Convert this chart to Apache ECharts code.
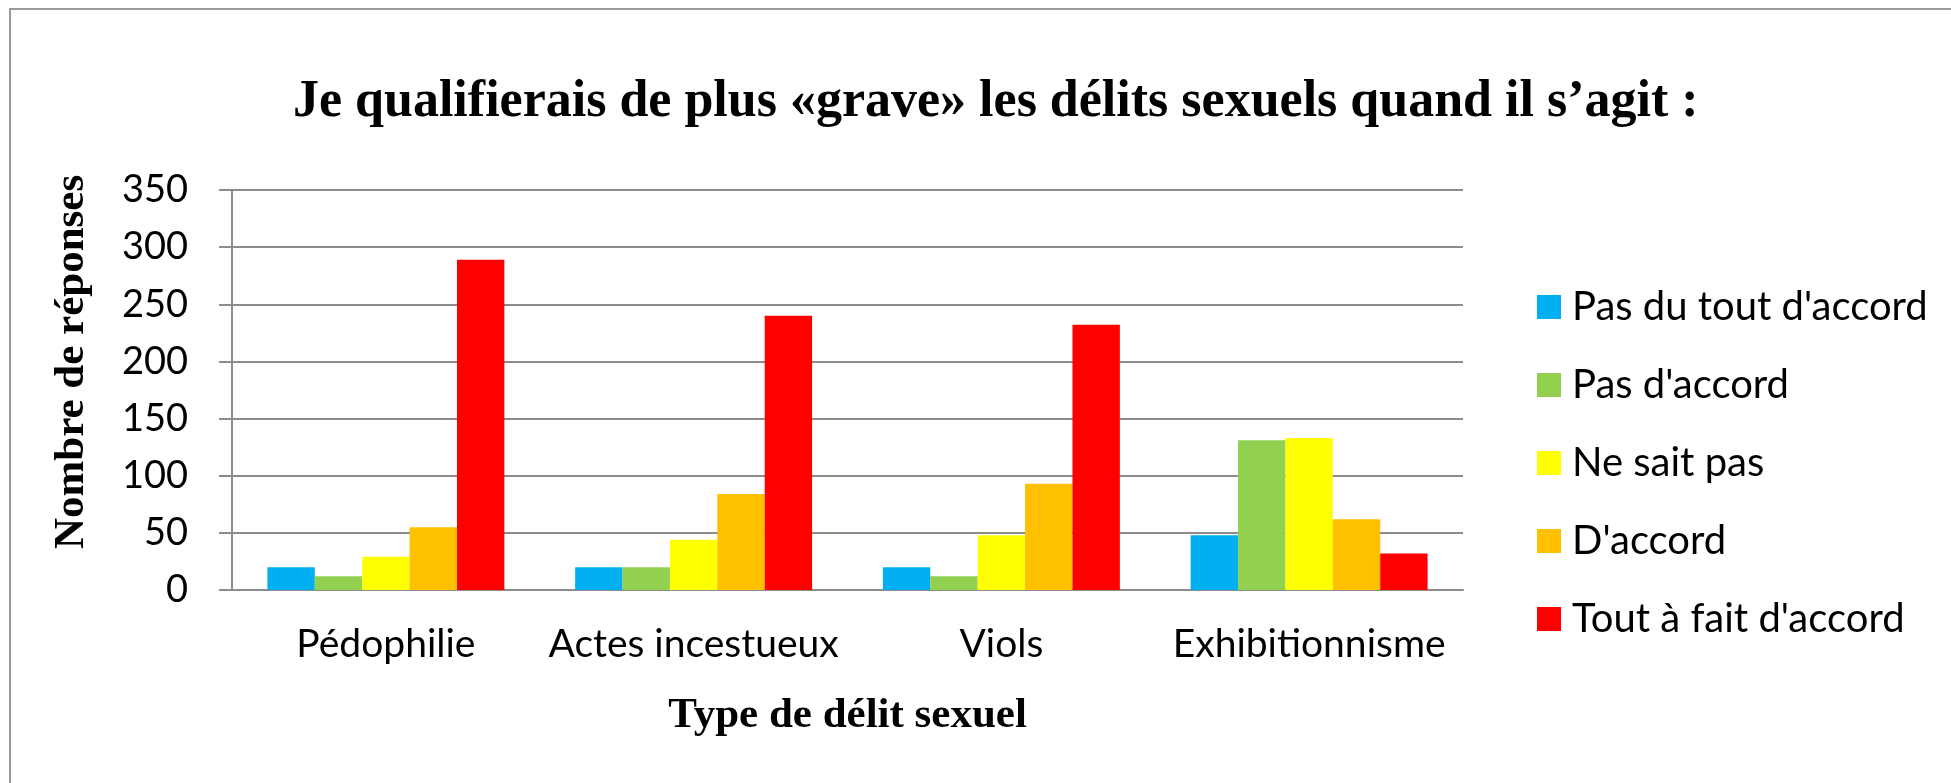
<!DOCTYPE html>
<html>
<head>
<meta charset="utf-8">
<script src="https://cdn.jsdelivr.net/npm/echarts@6/dist/echarts.min.js"></script>
<style>
  html, body { margin: 0; padding: 0; background: #fff; }
  #chart { width: 1951px; height: 783px; }
</style>
</head>
<body>
<div id="chart"></div>
<script>
// données
const categories = ['Pédophilie', 'Actes incestueux', 'Viols', 'Exhibitionnisme']
const seriesNames = ['Pas du tout d\'accord', 'Pas d\'accord', 'Ne sait pas', 'D\'accord', 'Tout à fait d\'accord']
const pasDuToutDaccord = [20, 20, 20, 48]
const pasDaccord = [12, 20, 12, 131]
const neSaitPas = [29, 44, 48, 133]
const daccord = [55, 84, 93, 62]
const toutAFaitDaccord = [289, 240, 232, 32]
const yTicks = [0, 50, 100, 150, 200, 250, 300, 350]

const colors = ['#00B0F0', '#92D050', '#FFFF00', '#FFC000', '#FF0000']
const values = [pasDuToutDaccord, pasDaccord, neSaitPas, daccord, toutAFaitDaccord]

const sansFont = 'Lato'
const serifFont = '"Liberation Serif", "DejaVu Serif", serif'
const gridColor = '#8c8c8c'

const chart = echarts.init(document.getElementById('chart'))

const option = {
  animation: false,
  color: colors,
  graphic: [
    {
      // cadre du graphique
      type: 'rect',
      shape: { x: 10, y: 9, width: 2000, height: 900 },
      style: { fill: 'none', stroke: '#9a9a9a', lineWidth: 2 },
      silent: true
    }
  ],
  title: {
    text: 'Je qualifierais de plus «grave» les délits sexuels quand il s’agit :',
    left: 288,
    top: 72,
    textStyle: {
      fontFamily: serifFont,
      fontWeight: 'bold',
      fontSize: 52,
      color: '#000'
    }
  },
  legend: {
    orient: 'vertical',
    left: 1532,
    top: 282,
    itemWidth: 24,
    itemHeight: 24,
    itemGap: 38,
    icon: 'rect',
    textStyle: {
      fontFamily: sansFont,
      fontSize: 40,
      lineHeight: 40,
      color: '#000',
      padding: [0, 0, 0, 6]
    },
    data: seriesNames
  },
  grid: {
    left: 232,
    right: 488,
    top: 190,
    bottom: 193,
    containLabel: false
  },
  xAxis: {
    type: 'category',
    data: categories,
    name: 'Type de délit sexuel',
    nameLocation: 'middle',
    nameGap: 104,
    nameTextStyle: {
      fontFamily: serifFont,
      fontWeight: 'bold',
      fontSize: 43,
      color: '#000'
    },
    axisLine: { show: true, lineStyle: { color: gridColor, width: 2 } },
    axisTick: { show: false },
    axisLabel: {
      interval: 0,
      margin: 35,
      fontFamily: sansFont,
      fontSize: 39,
      color: '#000'
    }
  },
  yAxis: {
    type: 'value',
    min: yTicks[0],
    max: yTicks[yTicks.length - 1],
    interval: 50,
    name: 'Nombre de réponses',
    nameLocation: 'middle',
    nameGap: 139,
    nameRotate: 90,
    nameTextStyle: {
      fontFamily: serifFont,
      fontWeight: 'bold',
      fontSize: 43,
      color: '#000',
      padding: [0, 0, 0, 56]
    },
    axisLine: { show: true, lineStyle: { color: gridColor, width: 2 } },
    axisTick: { show: true, inside: false, length: 13, lineStyle: { color: gridColor, width: 2 } },
    axisLabel: {
      margin: 44,
      fontFamily: sansFont,
      fontSize: 38,
      color: '#000'
    },
    splitLine: { show: true, lineStyle: { color: gridColor, width: 2 } }
  },
  series: seriesNames.map((name, i) => ({
    name: name,
    type: 'bar',
    data: values[i],
    barGap: '0%',
    barCategoryGap: '23%',
    itemStyle: { color: colors[i] }
  }))
}

chart.setOption(option)
</script>
</body>
</html>
